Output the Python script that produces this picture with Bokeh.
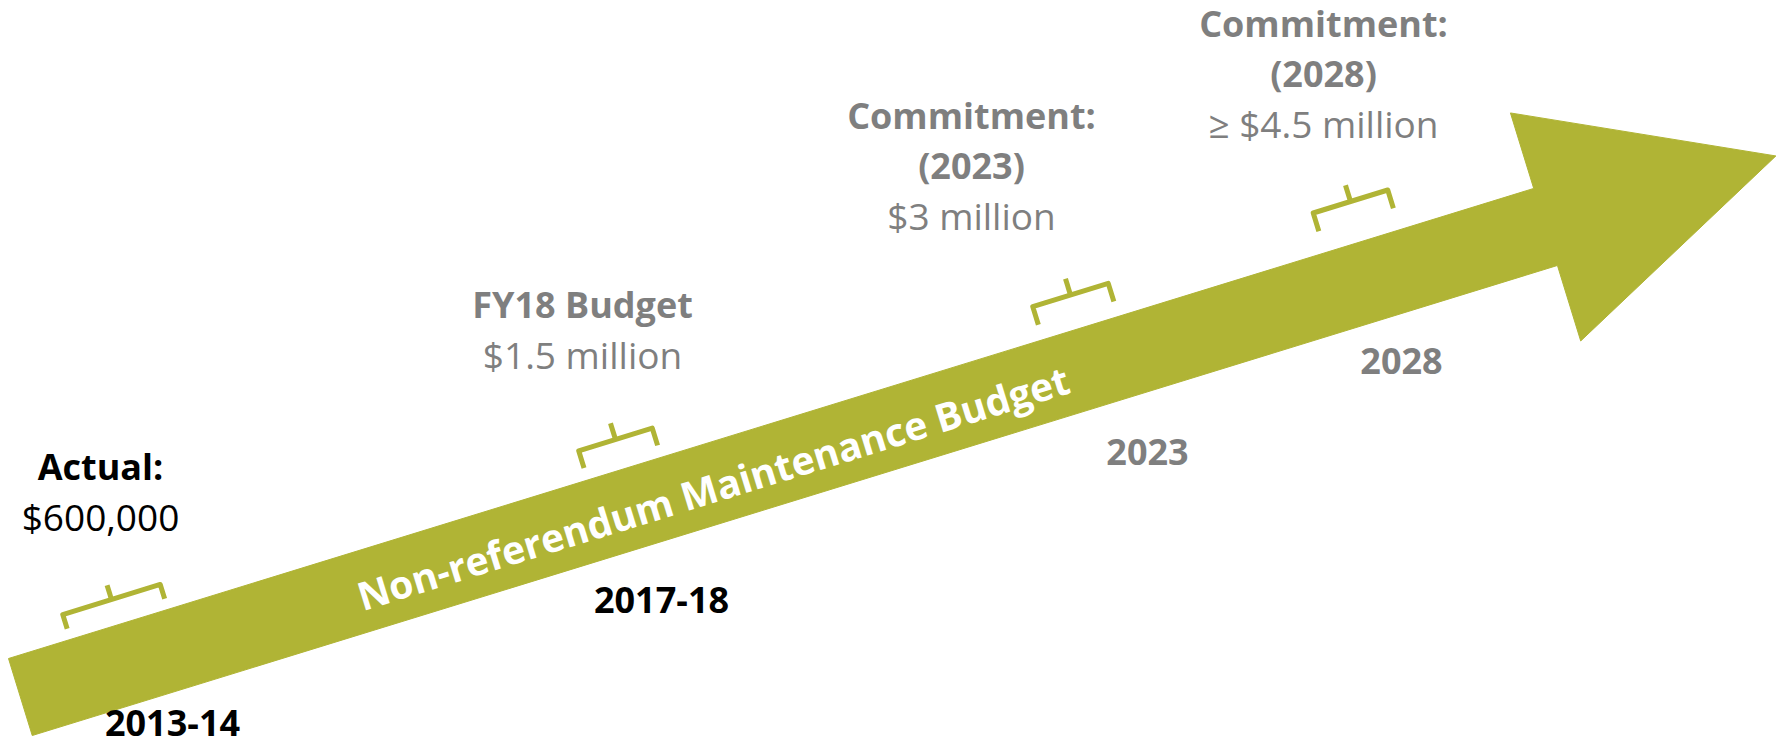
import math
from bokeh.plotting import figure
from bokeh.models import Range1d, ColumnDataSource
from bokeh.core.properties import value
from bokeh.embed import file_html
from bokeh.resources import INLINE

# ---------------- data ----------------
periods = ["2013-14", "2017-18", "2023", "2028"]
heading_line1 = ["Actual:", "FY18 Budget", "Commitment:", "Commitment:"]
heading_line2 = ["", "", "(2023)", "(2028)"]
amounts = ["$600,000", "$1.5 million", "$3 million", "\u2265 $4.5 million"]
amount_values = [600000, 1500000, 3000000, 4500000]
arrow_label = "Non-referendum Maintenance Budget"

# ---------------- style / layout ----------------
OLIVE = "#B0B435"
GRAY = "#7F7F7F"
BLACK = "#000000"
heading_colors = [BLACK, GRAY, GRAY, GRAY]
period_colors = [BLACK, BLACK, GRAY, GRAY]
FONT = "Open Sans"
TEXT_DY = -12  # baseline correction

label_x = [100, 582, 971, 1323]
label_top_baseline = [478, 316, 127, 35]
line_gap = 50
period_x = [172, 661, 1147, 1401]
period_y = [734, 611, 463, 372]

# arrow geometry (screen-like coordinates, y downward)
tail = (8.0, 658.0)
ang = math.atan2(470.0, 1525.0)
u = (math.cos(ang), -math.sin(ang))      # along arrow
n = (math.sin(ang), math.cos(ang))       # across arrow (downwards)
shaft_len = 1596.0
shaft_w = 80.6
head_extra = 79.0
head_len = 241.0

# brackets
bracket_c = [(111, 599), (615, 439), (1070, 294.5), (1350, 201)]
bracket_half = [51, 38.5, 39.5, 39]
bracket_end = [15, 18, 19, 19]
bracket_tick = [15, 17, 17, 17]

W, H = 1781, 747
p = figure(width=W, height=H, x_range=Range1d(0, W), y_range=Range1d(H, 0),
           output_backend="svg", toolbar_location=None, min_border=0,
           x_axis_location=None, y_axis_location=None)
p.grid.visible = False
p.outline_line_color = None
p.background_fill_color = "white"
p.border_fill_color = "white"

def pt(base, a, b):
    return (base[0] + a * u[0] + b * n[0], base[1] + a * u[1] + b * n[1])

# arrow polygon
verts = [
    pt(tail, 0, 0),
    pt(tail, shaft_len, 0),
    pt(tail, shaft_len, -head_extra),
    pt(tail, shaft_len + head_len, shaft_w / 2),
    pt(tail, shaft_len, shaft_w + head_extra),
    pt(tail, shaft_len, shaft_w),
    pt(tail, 0, shaft_w),
]
p.patch([v[0] for v in verts], [v[1] for v in verts], fill_color=OLIVE, line_color=OLIVE, line_width=1)

# brackets
xs, ys = [], []
for c, h, e, t in zip(bracket_c, bracket_half, bracket_end, bracket_tick):
    main = [pt(c, -h, e), pt(c, -h, 0), pt(c, h, 0), pt(c, h, e)]
    tick = [pt(c, 0, 0), pt(c, 0, -t)]
    xs.append([q[0] for q in main]); ys.append([q[1] for q in main])
    xs.append([q[0] for q in tick]); ys.append([q[1] for q in tick])
p.multi_line(xs, ys, line_color=OLIVE, line_width=5, line_join="round", line_cap="butt")

# headings and amounts
hx, hy, ht, hc = [], [], [], []
ax, ay, at, ac = [], [], [], []
for i in range(len(periods)):
    y = label_top_baseline[i] + TEXT_DY
    hx.append(label_x[i]); hy.append(y); ht.append(heading_line1[i]); hc.append(heading_colors[i])
    if heading_line2[i]:
        y += line_gap
        hx.append(label_x[i]); hy.append(y); ht.append(heading_line2[i]); hc.append(heading_colors[i])
    y += line_gap
    ax.append(label_x[i]); ay.append(y); at.append(amounts[i]); ac.append(heading_colors[i])

p.text(x="x", y="y", text="t", text_color="c",
       source=ColumnDataSource(dict(x=hx, y=hy, t=ht, c=hc)),
       text_font=value(FONT), text_font_style="bold", text_font_size="36px",
       text_align="center", text_baseline="alphabetic")
p.text(x="x", y="y", text="t", text_color="c",
       source=ColumnDataSource(dict(x=ax, y=ay, t=at, c=ac)),
       text_font=value(FONT), text_font_style="normal", text_font_size="37px",
       text_align="center", text_baseline="alphabetic")
p.text(x="x", y="y", text="t", text_color="c",
       source=ColumnDataSource(dict(x=period_x, y=[v + TEXT_DY for v in period_y], t=periods, c=period_colors)),
       text_font=value(FONT), text_font_style="bold", text_font_size="36px",
       text_align="center", text_baseline="alphabetic")

# arrow label (baseline centre, shifted across the arrow by the same correction)
lab = pt((716.0, 498.0), 0, TEXT_DY)
p.text(x=[lab[0]], y=[lab[1]], text=[arrow_label], angle=math.degrees(ang), angle_units="deg",
       text_color="white", text_font=value(FONT), text_font_style="bold", text_font_size="39px",
       text_align="center", text_baseline="alphabetic")

open("out.html", "w").write(file_html(p, INLINE))
